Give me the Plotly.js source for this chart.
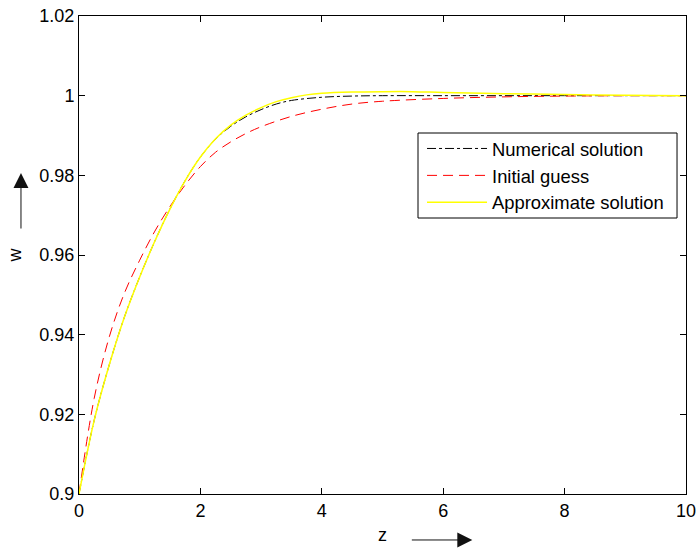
<!DOCTYPE html>
<html>
<head>
<meta charset="utf-8">
<script src="https://cdn.plot.ly/plotly-3.0.1.min.js"></script>
<style>html,body{margin:0;padding:0;background:#fff;}#chart{width:700px;height:553px;}</style>
</head>
<body>
<div id="chart"></div>
<script>
// ---- data ----
const zNum = [0, 0.25, 0.5, 0.75, 1, 1.25, 1.5, 1.75, 2, 2.25, 2.5, 2.75, 3, 3.25, 3.5, 4, 4.5, 5, 6, 7, 8, 9, 10];
const wNum = [0.9, 0.9185, 0.9325, 0.9445, 0.9545, 0.9635, 0.9716, 0.9787, 0.9846, 0.9891, 0.9923, 0.9947, 0.9965, 0.9979, 0.9988, 0.9996, 0.9999, 1.0, 1.0, 1.0, 1.0, 1.0, 1.0];

const zInit = [0, 0.25, 0.5, 0.75, 1, 1.25, 1.5, 1.75, 2, 2.25, 2.5, 2.75, 3, 3.5, 4, 4.5, 5, 6, 7, 8, 9, 10];
const wInit = [0.9, 0.9240, 0.9395, 0.9505, 0.9587, 0.9660, 0.9722, 0.9776, 0.9822, 0.9858, 0.9884, 0.9905, 0.9922, 0.9948, 0.9966, 0.9979, 0.9986, 0.9993, 0.9997, 0.9999, 1.0, 1.0];

const zApp = [0, 0.25, 0.5, 0.75, 1, 1.25, 1.5, 1.75, 2, 2.25, 2.5, 2.75, 3, 3.25, 3.5, 3.75, 4, 4.5, 5, 5.5, 6, 7, 8, 9, 10];
const wApp = [0.9, 0.9185, 0.9325, 0.9445, 0.9545, 0.9635, 0.9716, 0.9787, 0.9846, 0.9892, 0.9926, 0.9951, 0.9970, 0.9985, 0.9995, 1.0002, 1.0006, 1.0009, 1.001, 1.001, 1.0008, 1.0005, 1.0003, 1.0001, 1.0];

const seriesNames = ["Numerical solution", "Initial guess", "Approximate solution"];
const xTicks = [0, 2, 4, 6, 8, 10];
const yTicks = [0.9, 0.92, 0.94, 0.96, 0.98, 1, 1.02];
const yTickText = ["0.9", "0.92", "0.94", "0.96", "0.98", "1", "1.02"];

const FONT = "Liberation Sans, Arial, Helvetica, sans-serif";

const traces = [
  {x: zNum, y: wNum, name: seriesNames[0], mode: "lines", line: {color: "#000000", width: 1, dash: "dashdot", shape: "spline"}},
  {x: zInit, y: wInit, name: seriesNames[1], mode: "lines", line: {color: "#ff0000", width: 1, dash: "10px,6px", shape: "spline"}},
  {x: zApp, y: wApp, name: seriesNames[2], mode: "lines", line: {color: "#ffff00", width: 1.5, shape: "spline"}}
];

const axisCommon = {
  showgrid: false, zeroline: false, showline: true, linecolor: "#000", linewidth: 1,
  mirror: "ticks", ticks: "inside", ticklen: 6, tickcolor: "#000", tickwidth: 1,
  tickfont: {family: FONT, size: 18, color: "#000"}, automargin: false
};

const layout = {
  width: 700, height: 553,
  margin: {l: 79, r: 14, t: 16, b: 59, pad: 0},
  paper_bgcolor: "#fff", plot_bgcolor: "#fff",
  font: {family: FONT, size: 18, color: "#000"},
  showlegend: true,
  xaxis: Object.assign({}, axisCommon, {
    range: [0, 10], tickvals: xTicks, ticktext: xTicks.map(String),
    title: {text: "z", font: {family: FONT, size: 18, color: "#000"}, standoff: 8}
  }),
  yaxis: Object.assign({}, axisCommon, {
    range: [0.9, 1.02], tickvals: yTicks, ticktext: yTickText,
    title: {text: "w", font: {family: FONT, size: 18, color: "#000"}, standoff: 13}
  }),
  legend: {
    x: 0.5651, y: 0.7615, xanchor: "left", yanchor: "top",
    bgcolor: "rgba(0,0,0,0)", borderwidth: 0,
    font: {family: FONT, size: 18.4, color: "#000"},
    itemwidth: 60, tracegroupgap: 0
  },
  shapes: [
    {type: "rect", xref: "paper", yref: "paper", x0: 0.5585, x1: 0.9852, y0: 0.5774, y1: 0.7552,
     line: {color: "#000", width: 1}, fillcolor: "#fff", layer: "above"}
  ],
  annotations: [
    {xref: "paper", yref: "paper", x: -0.0956, y: 0.6715, text: "", showarrow: true,
     ax: 0, ay: 57, arrowhead: 2, arrowsize: 3, arrowwidth: 1, arrowcolor: "#111"},
    {xref: "paper", yref: "paper", x: 0.648, y: -0.0962, text: "", showarrow: true,
     ax: -62, ay: 0, arrowhead: 2, arrowsize: 3, arrowwidth: 1, arrowcolor: "#111"}
  ]
};

Plotly.newPlot("chart", traces, layout, {displayModeBar: false, staticPlot: true});
</script>
</body>
</html>
